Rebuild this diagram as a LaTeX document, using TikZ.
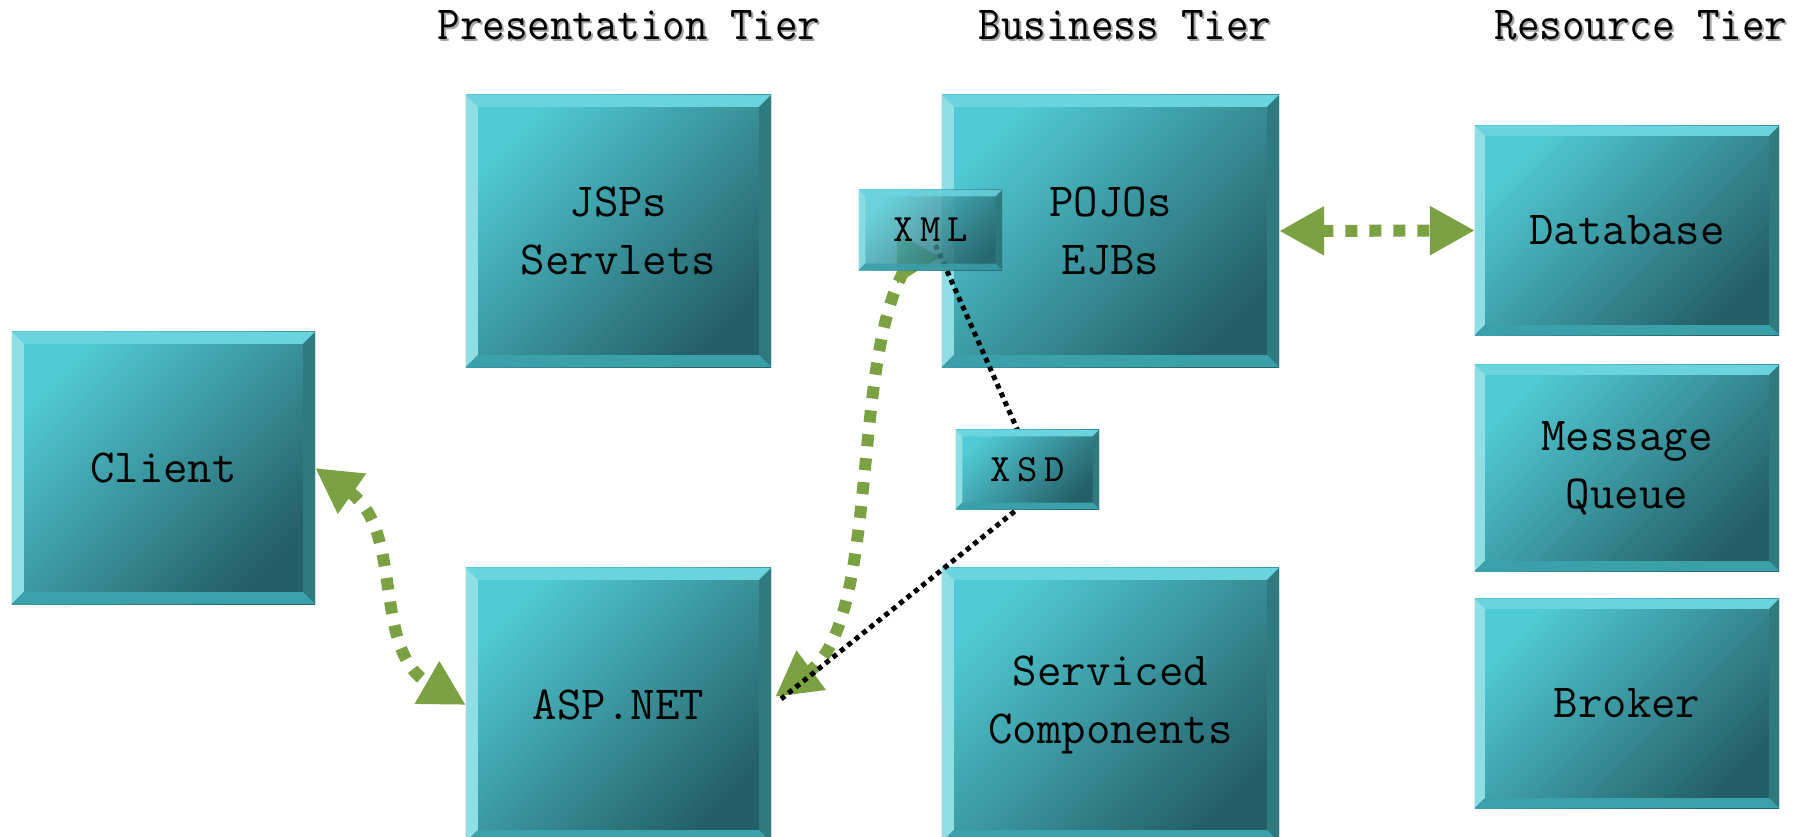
\documentclass[tikz,border=0pt]{standalone}
\usepackage{fontspec}
\newfontfamily\boxfont{Latin Modern Mono}
\newfontfamily\tierfont{Latin Modern Mono}[FakeStretch=0.92]
\newfontfamily\tagfont{Latin Modern Mono}[LetterSpace=18]
\usetikzlibrary{arrows.meta,calc}

\definecolor{facelight}{RGB}{80,202,212}
\definecolor{facedark}{RGB}{36,94,102}
\definecolor{beveltop}{RGB}{106,212,222}
\definecolor{bevelleft}{RGB}{142,222,229}
\definecolor{bevelright}{RGB}{46,122,126}
\definecolor{bevelbottom}{RGB}{58,160,170}
\definecolor{linkgreen}{RGB}{124,161,67}

\pgfdeclarelayer{front}
\pgfsetlayers{main,front}

% bevelled sides of a tier box, drawn inside its path picture
\newcommand\bevelsides{%
  \coordinate (bsw) at (path picture bounding box.south west);
  \coordinate (bne) at (path picture bounding box.north east);
  \coordinate (bnw) at (bsw |- bne);
  \coordinate (bse) at (bne |- bsw);
  \coordinate (isw) at ($(bsw)+(\bevelw,\bevelw)$);
  \coordinate (ine) at ($(bne)+(-\bevelw,-\bevelw)$);
  \coordinate (inw) at (isw |- ine);
  \coordinate (ise) at (ine |- isw);
  \fill[beveltop] (bnw) -- (bne) -- (ine) -- (inw) -- cycle;
  \fill[bevelleft] (bnw) -- (inw) -- (isw) -- (bsw) -- cycle;
  \fill[bevelright] (bne) -- (bse) -- (ise) -- (ine) -- cycle;
  \fill[bevelbottom] (bsw) -- (isw) -- (ise) -- (bse) -- cycle;
}

\begin{document}
\begin{tikzpicture}[x=0.01cm, y=0.01cm,
  bevel/.store in=\bevelw, bevel=0.12cm,
  tierbox/.style={
    inner sep=0pt, outer sep=0pt,
    top color=facelight, bottom color=facedark, shading angle=45,
    path picture={\bevelsides},
    align=center, font=\boxfont\fontsize{13.5}{16.5}\selectfont
  },
  tagbox/.style={tierbox, bevel=0.065cm, minimum width=1.43cm,
    minimum height=0.8cm, font=\tagfont\fontsize{11}{12}\selectfont},
  tiertitle/.style={font=\tierfont\fontsize{13.5}{14}\selectfont},
  tiershade/.style={tiertitle, text=black!35},
  flow/.style={draw=linkgreen, line width=0.12cm,
    dash pattern=on 0.12cm off 0.12cm,
    >={Triangle[length=4.5mm,width=4.6mm]}},
  schema/.style={draw=black, line width=0.05cm,
    dash pattern=on 0.05cm off 0.045cm}
]
\useasboundingbox (0,0) rectangle (1810,837);

% tier headings
\node[tiershade] (presshade) at (631,810) {Presentation Tier};
\node[tiertitle] (prestitle) at (629,812) {Presentation Tier};
\node[tiershade] (busshade) at (1127,810) {Business Tier};
\node[tiertitle] (bustitle) at (1125,812) {Business Tier};
\node[tiershade] (resshade) at (1643,810) {Resource Tier};
\node[tiertitle] (restitle) at (1641,812) {Resource Tier};

% tier boxes
\node[tierbox, minimum width=3.03cm, minimum height=2.72cm] (client) at (163.5,369) {Client};
\node[tierbox, minimum width=3.05cm, minimum height=2.72cm] (jsp) at (618.5,606) {JSPs\\Servlets};
\node[tierbox, minimum width=3.05cm, minimum height=2.74cm] (asp) at (618.5,132) {ASP.NET};
\node[tierbox, minimum width=3.37cm, minimum height=2.72cm] (pojo) at (1110.5,606) {POJOs\\EJBs};
\node[tierbox, minimum width=3.37cm, minimum height=2.74cm] (svc) at (1110.5,132) {Serviced\\Components};
\node[tierbox, bevel=0.1cm, minimum width=3.04cm, minimum height=2.09cm] (db) at (1627,606.5) {Database};
\node[tierbox, bevel=0.1cm, minimum width=3.04cm, minimum height=2.06cm] (mq) at (1627,369) {Message\\Queue};
\node[tierbox, bevel=0.1cm, minimum width=3.04cm, minimum height=2.09cm] (broker) at (1627,133.5) {Broker};

\begin{pgfonlayer}{front}
\node[tagbox, fill opacity=0.85, text opacity=1] (xml) at (930.5,607) {XML};
\node[tagbox, minimum height=0.79cm] (xsd) at (1027.5,367.5) {XSD};
\end{pgfonlayer}

% links
\draw[flow, <->] (client.east) to[out=-35,in=150] (asp.west);
\draw[flow, <->] (pojo.east) -- (db.west);
\draw[flow, {Triangle[reversed,length=4.5mm,width=4.6mm]}-{Triangle[length=4.5mm,width=4.6mm]}]
  ([shift={(-12,-15)}]xml.center) .. controls +(-68,-122) and +(105,78) .. ([shift={(4,8)}]asp.east);
\draw[schema] ([shift={(5,-15)}]xml.center) -- ([shift={(-10,0)}]xsd.north)
  -- ([shift={(-10,0)}]xsd.south) -- ([shift={(10,6)}]asp.east);
\end{tikzpicture}
\end{document}
